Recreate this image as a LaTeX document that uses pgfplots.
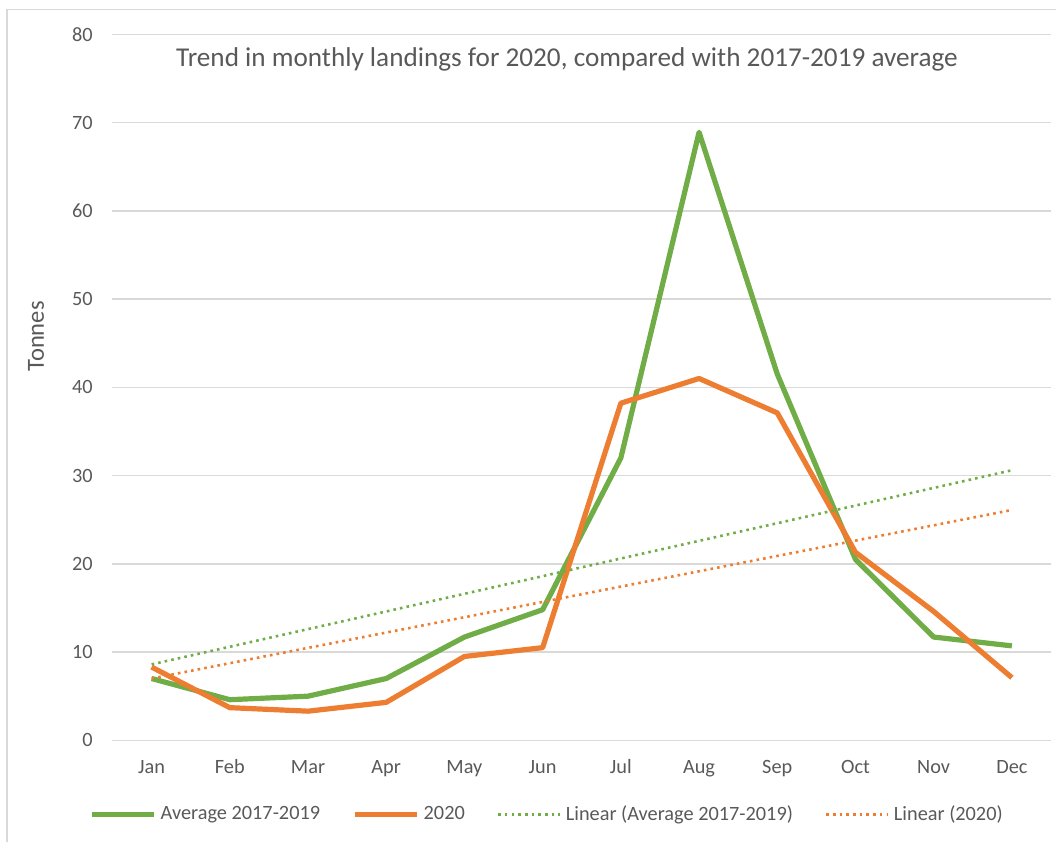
\documentclass[border=0pt]{standalone}
\usepackage{fontspec}
\setmainfont{Carlito}
\usepackage{pgfplots}
\usepackage{pgfplotstable}
\pgfplotsset{compat=1.18}

\definecolor{avggreen}{HTML}{70AD47}
\definecolor{yrorange}{HTML}{ED7D31}
\definecolor{gridgray}{HTML}{D9D9D9}
\definecolor{textgray}{HTML}{595959}

% Monthly landings (tonnes); months numbered 0 = Jan ... 11 = Dec
\pgfplotstableread{
m  avg   y2020
0  7.0   8.3
1  4.6   3.7
2  5.0   3.3
3  7.0   4.3
4  11.7  9.5
5  14.8  10.5
6  32.0  38.2
7  68.9  41.0
8  41.5  37.1
9  20.5  21.3
10 11.7  14.6
11 10.7  7.1
}\landings

% Linear trend lines, end points
\pgfplotstableread{
m  avg   y2020
0  8.6   7.0
11 30.6  26.1
}\trends

\begin{document}
\begin{tikzpicture}[x=1pt,y=1pt]
\useasboundingbox (0,0) rectangle (528,421);
% chart area frame
\draw[gridgray, line width=0.75pt] (3.5,0) -- (3.5,416.25) -- (528,416.25);

\begin{axis}[
  at={(56.25pt,50.85pt)}, anchor=south west,
  scale only axis, width=469.25pt, height=353pt,
  xmin=-0.5, xmax=11.5, ymin=0, ymax=80,
  xtick={0,...,11},
  xticklabels={Jan,Feb,Mar,Apr,May,Jun,Jul,Aug,Sep,Oct,Nov,Dec},
  ytick={0,10,...,80},
  axis line style={draw=none},
  major tick length=0pt,
  ymajorgrids,
  grid style={gridgray, line width=0.75pt},
  tick label style={font=\fontsize{10.15}{12}\selectfont, text=textgray},
  /pgf/number format/assume math mode=true,
  yticklabel style={anchor=east, inner sep=0pt, xshift=-9.75pt},
  xticklabel style={anchor=base, inner sep=0pt, yshift=-16.5pt},
  ylabel={Tonnes},
  ylabel style={at={(rel axis cs:-0.0815,0.572)}, anchor=center,
                font=\fontsize{12.3}{14}\selectfont, text=textgray},
  legend columns=4,
  legend cell align=left,
  legend style={draw=none, fill=none, inner sep=0pt,
    at={(rel axis cs:-0.0254,-0.105)}, anchor=west,
    font=\fontsize{10.15}{12}\selectfont, text=textgray,
    nodes={inner sep=0pt},
    /tikz/every odd column/.append style={column sep=2.2pt},
    /tikz/every even column/.append style={column sep=16pt}},
  legend image code/.code={\draw[#1] (0pt,0pt) -- (31pt,0pt);},
]
\addplot[avggreen, line width=2.6pt, line join=round] table[x=m, y=avg] {\landings};
\addlegendentry{Average 2017-2019}
\addplot[yrorange, line width=2.6pt, line join=round] table[x=m, y=y2020] {\landings};
\addlegendentry{2020}
\addplot[avggreen, line width=1.3pt, dash pattern=on 1.3pt off 2.05pt] table[x=m, y=avg] {\trends};
\addlegendentry{Linear (Average 2017-2019)}
\addplot[yrorange, line width=1.3pt, dash pattern=on 1.3pt off 2.05pt] table[x=m, y=y2020] {\trends};
\addlegendentry{Linear (2020)}

\node[anchor=base, font=\fontsize{13.6}{16}\selectfont, text=textgray]
  at (rel axis cs:0.4843,0.9551)
  {Trend in monthly landings for 2020, compared with 2017-2019 average};
\end{axis}
\end{tikzpicture}
\end{document}
